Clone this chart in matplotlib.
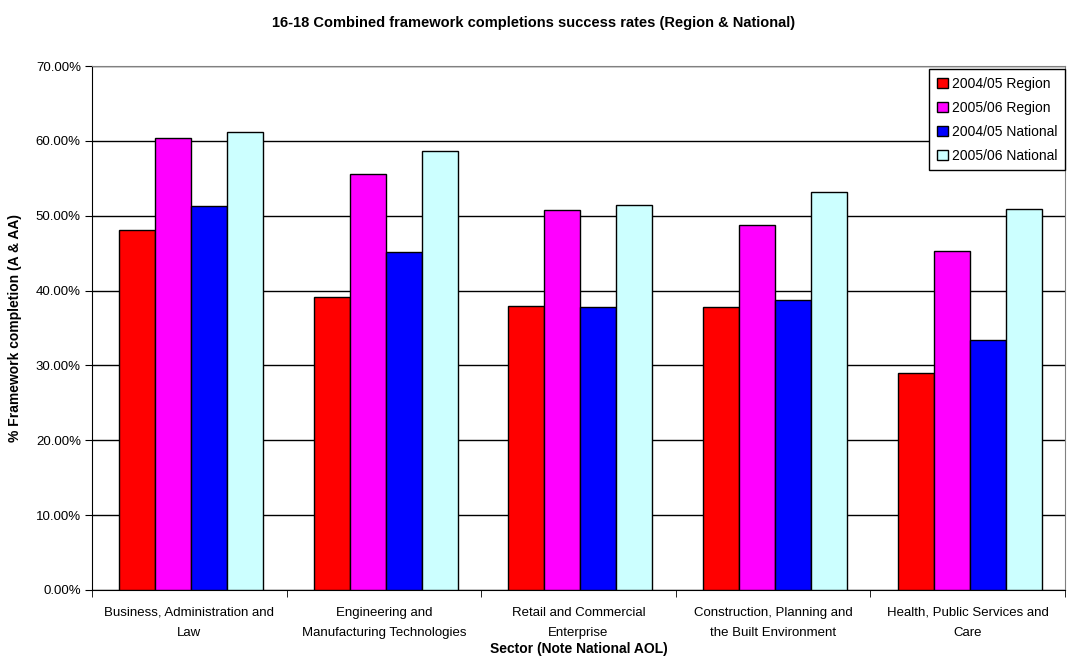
import matplotlib
matplotlib.use('Agg')
import matplotlib.pyplot as plt
import numpy as np
from matplotlib.ticker import FuncFormatter, MultipleLocator

plt.rcParams['font.family'] = ['Liberation Sans', 'DejaVu Sans']

sectors = ['Business, Administration and\nLaw',
           'Engineering and\nManufacturing Technologies',
           'Retail and Commercial\nEnterprise',
           'Construction, Planning and\nthe Built Environment',
           'Health, Public Services and\nCare']
region_0405 = [48.1, 39.2, 38.0, 37.8, 29.0]
region_0506 = [60.4, 55.6, 50.8, 48.8, 45.3]
national_0405 = [51.3, 45.2, 37.8, 38.7, 33.4]
national_0506 = [61.2, 58.6, 51.5, 53.2, 50.9]
series_names = ['2004/05 Region', '2005/06 Region', '2004/05 National', '2005/06 National']
colours = ['#FF0000', '#FF00FF', '#0000FF', '#CCFFFF']

fig = plt.figure(figsize=(10.67, 6.57), dpi=100)
ax = fig.add_axes([0.0862, 0.102, 0.912, 0.7975])

x = np.arange(len(sectors))
w = 0.185
allseries = [region_0405, region_0506, national_0405, national_0506]
for i, vals in enumerate(allseries):
    ax.bar(x + (i - 1.5) * w + 0.01, vals, w, color=colours[i], edgecolor='black',
           linewidth=1, label=series_names[i], zorder=3)

ax.set_xlim(-0.5, len(sectors) - 0.5)
ax.set_ylim(0, 70)
ax.yaxis.set_major_locator(MultipleLocator(10))
ax.yaxis.set_major_formatter(FuncFormatter(lambda v, p: '%.2f%%' % v))
ax.grid(axis='y', color='black', linewidth=1, zorder=0)

ax.set_xticks(x)
ax.set_xticklabels(sectors, fontsize=9.5, linespacing=1.93)
ax.set_xticks(np.arange(len(sectors) + 1) - 0.5, minor=True)
ax.tick_params(axis='x', which='major', length=0, pad=12)
ax.tick_params(axis='x', which='minor', length=5, direction='out')
ax.tick_params(axis='y', labelsize=9.5, length=5, direction='out', pad=3)

for s in ['top', 'right']:
    ax.spines[s].set_color('#808080')
for s in ['left', 'bottom']:
    ax.spines[s].set_color('black')

ax.set_ylabel('% Framework completion (A & AA)', fontsize=10, fontweight='bold', labelpad=10)
ax.set_xlabel('Sector (Note National AOL)', fontsize=10, fontweight='bold', labelpad=2)
fig.suptitle('16-18 Combined framework completions success rates (Region & National)',
             fontsize=10.5, fontweight='bold', x=0.5, y=0.975)

leg = ax.legend(loc='upper right', bbox_to_anchor=(1.0, 0.994), fontsize=10,
                frameon=True, fancybox=False, edgecolor='black', framealpha=1,
                handlelength=0.8, handleheight=0.8, handletextpad=0.3,
                labelspacing=0.72, borderpad=0.55, borderaxespad=0.0)
leg.get_frame().set_linewidth(1)

fig.savefig('out.png', dpi=100)
